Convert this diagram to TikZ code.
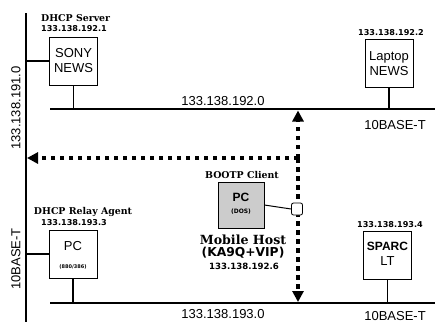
\documentclass[tikz,border=0pt]{standalone}
\usepackage{fontspec}
\setmainfont{Liberation Sans}
\newfontfamily\serifb{DejaVu Serif}
\newfontfamily\sansb{DejaVu Sans}
\usetikzlibrary{arrows.meta}
\tikzset{
  net/.style={line width=2.4pt},
  wire/.style={line width=1.5pt},
  host/.style={draw, line width=0.8pt, minimum width=48pt, minimum height=48pt, inner sep=0pt, align=center},
  lbl/.style={inner sep=0pt, font=\fontsize{13}{15}\selectfont},
  num/.style={inner sep=0pt, font=\sansb\bfseries\fontsize{8.1}{9}\selectfont},
  role/.style={inner sep=0pt, font=\serifb\bfseries\fontsize{9.4}{11}\selectfont},
  flow/.style={line width=3.8pt, dash pattern=on 4.5pt off 4.5pt},
  tip/.style={-{Triangle[length=11pt,width=11pt]}}
}
\begin{document}
\begin{tikzpicture}[x=1pt,y=-1pt]
\useasboundingbox (0,0) rectangle (435,322);
% backbone
\coordinate (bbtop) at (26,13);
\coordinate (bbbot) at (26,322);
\draw[line width=2pt] (bbtop) -- (bbbot);
% networks
\coordinate (n1l) at (50,109); \coordinate (n1r) at (435,109);
\coordinate (n2l) at (50,303); \coordinate (n2r) at (435,303);
\draw[net] (n1l) -- (n1r);
\draw[net] (n2l) -- (n2r);
% hosts
\node[host, lbl] (sony) at (73.5,61) {SONY\\NEWS};
\node[host, lbl] (laptop) at (389,63.5) {Laptop\\NEWS};
\node[host] (relay) at (73,254) {};
\node[lbl] (relaypc) at (73,246) {PC};
\node[inner sep=0pt, font=\sansb\bfseries\fontsize{5}{6}\selectfont] (relayos) at (73,267) {(880/386)};
\node[host] (sparc) at (387.5,255.5) {};
\node[inner sep=0pt, font=\bfseries\fontsize{12}{14}\selectfont] (sparcn) at (387.5,246) {SPARC};
\node[lbl] (sparclt) at (387.5,261) {LT};
\node[host, fill=black!20, minimum width=46pt, minimum height=46pt] (dos) at (241,205) {};
\node[inner sep=0pt, font=\bfseries\fontsize{12}{14}\selectfont] (dospc) at (241,197) {PC};
\node[inner sep=0pt, font=\sansb\bfseries\fontsize{6}{7}\selectfont] (dosos) at (241,212) {(DOS)};
% connectors
\coordinate (s1) at (26,61);
\coordinate (s2) at (26,254);
\draw[wire] (s1) -- (sony.west);
\draw[wire] (sony.south) -- (sony.south |- n1l);
\draw[wire] (laptop.south) -- (laptop.south |- n1l);
\draw[wire] (s2) -- (relay.west);
\draw[wire] (relay.south) -- (relay.south |- n2l);
\draw[wire] (sparc.south) -- (sparc.south |- n2l);
% dashed flows
\coordinate (vt) at (298,110.5);
\coordinate (vb) at (298,302);
\coordinate (vc) at (298,158);
\coordinate (hl) at (27,158);
\draw[flow, tip] (vc) -- (vt);
\draw[flow, tip] (vc) -- (vb);
\draw[flow, tip] (vc) -- (hl);
% network interface on the move
\node[draw, fill=white, line width=0.8pt, rounded corners=2pt, minimum width=11pt, minimum height=12pt, inner sep=0pt] (nic) at (297,209) {};
\draw[line width=1pt] (dos.east) -- (nic.west);
% labels
\node[role, anchor=west] (l1) at (41,18) {DHCP Server};
\node[num, anchor=west] (l2) at (41,29) {133.138.192.1};
\node[num] (l3) at (391,33) {133.138.192.2};
\node[lbl] (l4) at (223,101) {133.138.192.0};
\node[lbl] (l5) at (395,125) {10BASE-T};
\node[lbl, rotate=90] (l6) at (16,108) {133.138.191.0};
\node[lbl, rotate=90] (l7) at (16,259) {10BASE-T};
\node[role] (l8) at (242,175) {BOOTP Client};
\node[inner sep=0pt, font=\serifb\bfseries\fontsize{12.6}{14}\selectfont] (l9) at (243,240) {Mobile Host};
\node[inner sep=0pt, font=\sansb\bfseries\fontsize{12.3}{14}\selectfont] (l10) at (243,253) {(KA9Q+VIP)};
\node[num, font=\sansb\bfseries\fontsize{8.6}{10}\selectfont] (l11) at (244,266) {133.138.192.6};
\node[role] (l12) at (83,212) {DHCP Relay Agent};
\node[num] (l13) at (74,223) {133.138.193.3};
\node[num] (l14) at (390,225) {133.138.193.4};
\node[lbl] (l15) at (223,314) {133.138.193.0};
\node[lbl] (l16) at (395,316) {10BASE-T};
\end{tikzpicture}
\end{document}
